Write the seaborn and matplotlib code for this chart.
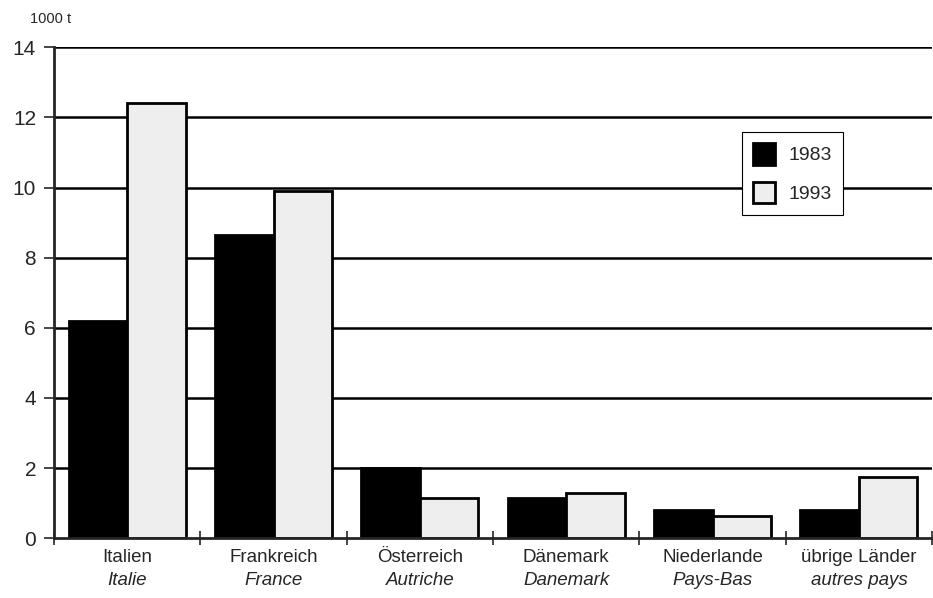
import matplotlib
matplotlib.use("Agg")
import matplotlib.pyplot as plt
import seaborn as sns
import pandas as pd

# values (1000 t)
laender = ["Italien", "Frankreich", "Österreich", "Dänemark", "Niederlande", "übrige Länder"]
pays = ["Italie", "France", "Autriche", "Danemark", "Pays-Bas", "autres pays"]
werte_1983 = [6.2, 8.65, 2.0, 1.15, 0.8, 0.8]
werte_1993 = [12.4, 9.9, 1.15, 1.3, 0.62, 1.75]

df = pd.DataFrame({
    "land": laender * 2,
    "jahr": ["1983"] * 6 + ["1993"] * 6,
    "wert": werte_1983 + werte_1993,
})

sns.set_style("white")
plt.rcParams["font.family"] = ["Liberation Sans", "DejaVu Sans"]

fig = plt.figure(figsize=(9.33, 5.98), dpi=100)
ax = fig.add_axes([0.058, 0.100, 0.941, 0.821])

# grid lines first, bars drawn over them
for y in range(2, 15, 2):
    ax.axhline(y, color="black", lw=1.8, zorder=0)

sns.barplot(data=df, x="land", y="wert", hue="jahr", ax=ax,
            palette={"1983": "black", "1993": "#eeeeee"},
            edgecolor="black", linewidth=2, width=0.8, zorder=2)

ax.set_ylim(0, 14)
ax.set_xlim(-0.5, 5.5)
ax.set_yticks(range(0, 15, 2))
ax.tick_params(axis="y", labelsize=15, length=7, width=1.2, direction="out", left=True, pad=6)
ax.set_xticks(range(6))
ax.set_xticklabels([""] * 6)
ax.tick_params(axis="x", which="major", length=0)
ax.set_xticks([i - 0.5 for i in range(7)], minor=True)
ax.tick_params(axis="x", which="minor", length=10, width=1.2, direction="inout", bottom=True)
ax.set_xlabel("")
ax.set_ylabel("")

sns.despine(ax=ax, top=True, right=True)
ax.spines["left"].set_linewidth(2)
ax.spines["bottom"].set_linewidth(2)

trans = ax.get_xaxis_transform()
for i, (de, fr) in enumerate(zip(laender, pays)):
    ax.text(i, -0.022, de, transform=trans, ha="center", va="top", fontsize=13.5)
    ax.text(i, -0.068, fr, transform=trans, ha="center", va="top", fontsize=13.5, style="italic")

fig.text(0.032, 0.968, "1000 t", fontsize=10.5, ha="left", va="center")

leg = ax.legend(loc="upper left", bbox_to_anchor=(0.783, 0.828), title=None,
                fontsize=14, frameon=True, fancybox=False, borderpad=0.6, borderaxespad=0,
                labelspacing=0.9, handlelength=1.1, handleheight=1.3, handletextpad=0.7)
leg.get_frame().set_edgecolor("black")
leg.get_frame().set_linewidth(0.8)
leg.get_frame().set_alpha(1)

fig.savefig("out.png", dpi=100)
